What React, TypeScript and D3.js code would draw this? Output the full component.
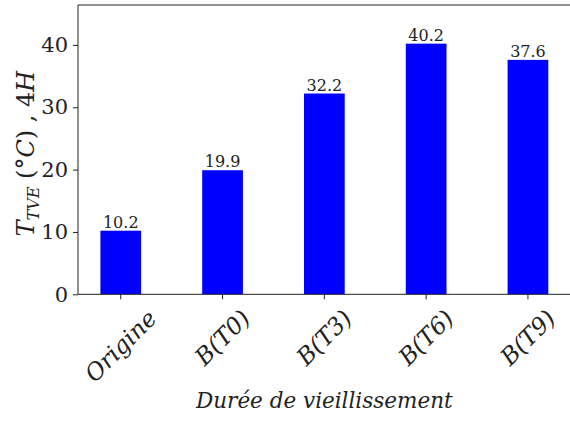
import React, { useRef, useEffect } from 'react'
import { select, scaleLinear, axisLeft } from 'd3'

const categories: string[] = ['Origine', 'B(T0)', 'B(T3)', 'B(T6)', 'B(T9)']
const values: number[] = [10.2, 19.9, 32.2, 40.2, 37.6]
const yTicks: number[] = [0, 10, 20, 30, 40]

const W = 570, H = 421
const margin = { top: 5, left: 78 },
    plotRight = 570.7,
    plotBottom = 294.3
const FONT = "DejaVu Serif"
const BAR_WIDTH = 0.4

export default function App() {
    const svgRef = useRef(null)

    useEffect(() => {
        const svg = select(svgRef.current)
        svg.selectAll('*').remove()

        const x = scaleLinear().domain([-0.42, categories.length - 1 + 0.42]).range([margin.left, plotRight])
        const y = scaleLinear().domain([0, 46.4]).range([plotBottom, margin.top])

        // bars
        svg.append('g')
            .selectAll('rect')
            .data(values)
            .join('rect')
            .attr('x', (d, i) => x(i - BAR_WIDTH / 2))
            .attr('width', x(BAR_WIDTH) - x(0))
            .attr('y', d => y(d))
            .attr('height', d => y(0) - y(d))
            .attr('fill', '#0000ff')

        // value labels
        svg.append('g')
            .selectAll('text')
            .data(values)
            .join('text')
            .attr('x', (d, i) => x(i))
            .attr('y', d => y(d) - 3)
            .attr('text-anchor', 'middle')
            .attr('font-family', FONT)
            .attr('font-size', 16)
            .attr('fill', '#222')
            .text(d => d.toFixed(1))

        // y axis
        const ya = svg.append('g')
            .attr('transform', `translate(${margin.left},0)`)
            .call(axisLeft(y).tickValues(yTicks).tickSize(5).tickPadding(5).tickFormat(d => String(d)))
        ya.select('.domain').remove()
        ya.selectAll('text').attr('font-family', FONT).attr('font-size', 21).attr('fill', '#222')
        ya.selectAll('line').attr('stroke', '#222')

        // spines (right one is cut off by the canvas edge)
        svg.append('path')
            .attr('d', `M${margin.left},${plotBottom}V${margin.top}H${plotRight}`)
            .attr('fill', 'none').attr('stroke', '#222').attr('stroke-width', 1)
        svg.append('line')
            .attr('x1', margin.left).attr('x2', plotRight)
            .attr('y1', plotBottom).attr('y2', plotBottom)
            .attr('stroke', '#222')

        // x ticks + rotated labels (centred under the tick, like matplotlib rotation=45)
        const xt = svg.append('g')
        categories.forEach((c, i) => {
            xt.append('line')
                .attr('x1', x(i)).attr('x2', x(i))
                .attr('y1', plotBottom).attr('y2', plotBottom + 5)
                .attr('stroke', '#222')
            const t = xt.append('text')
                .attr('font-family', FONT)
                .attr('font-size', 23.5)
                .attr('font-style', 'italic')
                .attr('text-anchor', 'middle')
                .attr('dominant-baseline', 'central')
                .attr('fill', '#222')
                .text(c)
            const node = t.node() as SVGTextElement
            const w = node.getComputedTextLength()
            const h = 18
            const half = (w + h) / (2 * Math.SQRT2)
            const cy = 308 + half
            t.attr('x', x(i)).attr('y', cy)
                .attr('transform', `rotate(-45,${x(i)},${cy})`)
        })

        // x label
        svg.append('text')
            .attr('x', (margin.left + plotRight) / 2)
            .attr('y', 408)
            .attr('text-anchor', 'middle')
            .attr('font-family', FONT)
            .attr('font-size', 21.5)
            .attr('font-style', 'italic')
            .attr('fill', '#222')
            .text('Durée de vieillissement')

        // y label
        const yl = svg.append('text')
            .attr('transform', `translate(34,${(margin.top + plotBottom) / 2 + 4}) rotate(-90)`)
            .attr('text-anchor', 'middle')
            .attr('font-family', FONT)
            .attr('font-size', 24)
            .attr('fill', '#222')
        yl.append('tspan').attr('font-style', 'italic').text('T')
        yl.append('tspan').attr('font-style', 'italic').attr('font-size', 16).attr('dy', 5).text('TVE')
        yl.append('tspan').attr('dy', -5).text(' (°')
        yl.append('tspan').attr('font-style', 'italic').text('C')
        yl.append('tspan').text(') , 4')
        yl.append('tspan').attr('font-style', 'italic').text('H')
    }, [])

    return (
        <div style={{ position: 'absolute', left: 0, top: 0 }}>
            <svg ref={svgRef} width={W} height={H} style={{ display: 'block', background: '#fff' }} />
        </div>
    )
}
